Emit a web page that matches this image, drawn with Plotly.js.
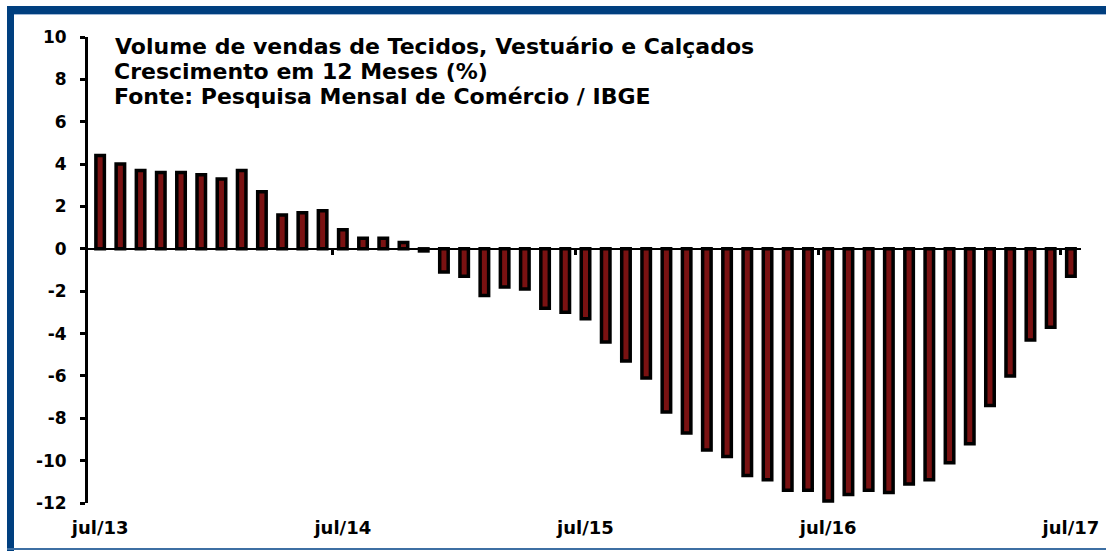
<!DOCTYPE html>
<html>
<head>
<meta charset="utf-8">
<script src="https://cdn.plot.ly/plotly-3.0.1.min.js"></script>
<style>
  html, body { margin: 0; padding: 0; background: #fff; }
  #wrap { position: relative; width: 1106px; height: 551px; overflow: hidden; }
  #chart { position: absolute; left: 0; top: 0; width: 1106px; height: 551px; }
  .frame { position: absolute; pointer-events: none; }
</style>
</head>
<body>
<div id="wrap">
  <div id="chart"></div>
  <div class="frame" style="left:7px; top:6px; width:1099px; height:8px; background:#003f7f;"></div>
  <div class="frame" style="left:14px; top:14px; width:1092px; height:1px; background:#9fb7d6;"></div>
  <div class="frame" style="left:7px; top:6px; width:7px; height:545px; background:#003f7f;"></div>
  <div class="frame" style="left:7px; top:548px; width:1099px; height:2px; background:#3d6fa3;"></div>
</div>
<script>
const months = [
  "jul/13","ago/13","set/13","out/13","nov/13","dez/13","jan/14","fev/14","mar/14","abr/14","mai/14","jun/14",
  "jul/14","ago/14","set/14","out/14","nov/14","dez/14","jan/15","fev/15","mar/15","abr/15","mai/15","jun/15",
  "jul/15","ago/15","set/15","out/15","nov/15","dez/15","jan/16","fev/16","mar/16","abr/16","mai/16","jun/16",
  "jul/16","ago/16","set/16","out/16","nov/16","dez/16","jan/17","fev/17","mar/17","abr/17","mai/17","jun/17",
  "jul/17"
];
const growth12m = [
  4.4, 4.0, 3.7, 3.6, 3.6, 3.5, 3.3, 3.7, 2.7, 1.6, 1.7, 1.8,
  0.9, 0.5, 0.5, 0.3, -0.1, -1.1, -1.3, -2.2, -1.8, -1.9, -2.8, -3.0,
  -3.3, -4.4, -5.3, -6.1, -7.7, -8.7, -9.5, -9.8, -10.7, -10.9, -11.4, -11.4,
  -11.9, -11.6, -11.4, -11.5, -11.1, -10.9, -10.1, -9.2, -7.4, -6.0, -4.3, -3.7,
  -1.3
];
const tickLabels = ["jul/13", "jul/14", "jul/15", "jul/16", "jul/17"];
const yTicks = [-12, -10, -8, -6, -4, -2, 0, 2, 4, 6, 8, 10];
const titleLines = [
  "Volume de vendas de Tecidos, Vestuário e Calçados",
  "Crescimento em 12 Meses (%)",
  "Fonte: Pesquisa Mensal de Comércio / IBGE"
];

const idx = months.map((m, i) => i);
const labelPos = tickLabels.map(l => months.indexOf(l));
const yearBreaks = labelPos.slice(1).map(p => p - 0.5);

const FONT = "DejaVu Sans, Arial, sans-serif";
const TITLE_SIZE = 22;

const traces = [
  {
    type: "bar",
    x: idx,
    y: growth12m,
    hovertext: months,
    hoverinfo: "text+y",
    textposition: "none",
    width: 0.42,
    marker: { color: "#7a1212", line: { color: "#000000", width: 3.5 } },
    showlegend: false
  },
  {
    type: "scatter",
    mode: "markers",
    x: [idx[0]],
    y: [0],
    xaxis: "x2",
    marker: { opacity: 0 },
    hoverinfo: "skip",
    showlegend: false
  }
];

const layout = {
  width: 1106,
  height: 551,
  paper_bgcolor: "#ffffff",
  plot_bgcolor: "#ffffff",
  margin: { l: 88, r: 25, t: 37, b: 48 },
  font: { family: FONT, color: "#000000" },
  title: {
    text: "<b>" + titleLines[0] + "</b>",
    font: { family: FONT, size: TITLE_SIZE, color: "#000000" },
    x: 115 / 1106,
    xanchor: "left",
    xref: "container",
    y: 1 - 46 / 551,
    yanchor: "middle",
    yref: "container"
  },
  annotations: [
    {
      text: "<b>" + titleLines[1] + "</b>",
      xref: "paper", yref: "paper",
      x: 24 / 993, y: (503 - 71) / 466,
      xanchor: "left", yanchor: "middle",
      showarrow: false,
      font: { family: FONT, size: TITLE_SIZE, color: "#000000" }
    },
    {
      text: "<b>" + titleLines[2] + "</b>",
      xref: "paper", yref: "paper",
      x: 24 / 993, y: (503 - 96) / 466,
      xanchor: "left", yanchor: "middle",
      showarrow: false,
      font: { family: FONT, size: TITLE_SIZE, color: "#000000" }
    }
  ],
  xaxis: {
    range: [-0.6, 48.5],
    tickmode: "array",
    tickvals: labelPos,
    ticktext: tickLabels.map(t => "<b>" + t + "</b>"),
    tickfont: { family: FONT, size: 18, color: "#000000" },
    ticks: "",
    ticklabelstandoff: 12,
    showline: false,
    showgrid: false,
    zeroline: false,
    fixedrange: true
  },
  xaxis2: {
    overlaying: "x",
    anchor: "free",
    position: 12 / 22,
    range: [-0.6, 48.5],
    tickmode: "array",
    tickvals: yearBreaks,
    ticks: "outside",
    ticklen: 5,
    tickwidth: 3,
    tickcolor: "#000000",
    showticklabels: false,
    showline: false,
    showgrid: false,
    zeroline: false
  },
  yaxis: {
    range: [-12, 10],
    tickmode: "array",
    tickvals: yTicks,
    ticktext: yTicks.map(v => "<b>" + v + "</b>"),
    tickfont: { family: FONT, size: 17, color: "#000000" },
    ticks: "outside",
    ticklen: 5,
    tickwidth: 3,
    tickcolor: "#000000",
    showline: true,
    linewidth: 3,
    linecolor: "#000000",
    showgrid: false,
    zeroline: true,
    zerolinecolor: "#000000",
    zerolinewidth: 2.5,
    ticklabelstandoff: 10
  }
};

Plotly.newPlot("chart", traces, layout, { displayModeBar: false, staticPlot: true });
</script>
</body>
</html>
